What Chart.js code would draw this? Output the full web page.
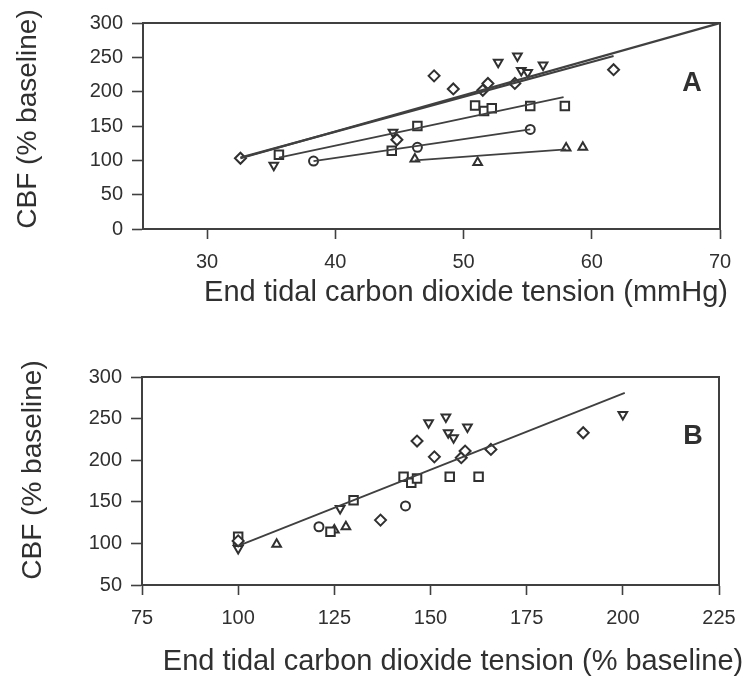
<!DOCTYPE html>
<html>
<head>
<meta charset="utf-8">
<title>CBF vs end tidal CO2</title>
<script src="https://cdn.jsdelivr.net/npm/chart.js@4/dist/chart.umd.min.js"></script>
<style>
  body { margin: 0; background: #fff; }
  #wrap { position: relative; width: 750px; height: 680px; }
  canvas { position: absolute; left: 0; }
</style>
</head>
<body>
<div id="wrap">
  <canvas id="chartA" width="750" height="340" style="top:0"></canvas>
  <canvas id="chartB" width="750" height="340" style="top:340px"></canvas>
</div>
<script>
// Panel A: CBF (% baseline) vs end tidal CO2 (mmHg)
const diamondAx = [32.6, 44.8, 47.7, 49.2, 51.5, 51.9, 54.0, 61.7];
const diamondAy = [103, 130, 223, 204, 202, 212, 212, 232];
const invTriAx = [35.2, 44.5, 52.7, 54.2, 54.5, 55.0, 56.2];
const invTriAy = [93, 141, 243, 252, 231, 228, 239];
const squareAx = [35.6, 44.4, 46.4, 50.9, 51.6, 52.2, 55.2, 57.9];
const squareAy = [108, 114, 150, 180, 172, 176, 179, 179];
const circleAx = [38.3, 46.4, 55.2];
const circleAy = [99, 119, 145];
const triAx = [46.2, 51.1, 58.0, 59.3];
const triAy = [102, 97, 118, 119];

// fitted lines, panel A (end points)
const fitA1x = [32.6, 70], fitA1y = [103, 300];
const fitA2x = [32.6, 61.7], fitA2y = [104, 252];
const fitA3x = [35.6, 57.8], fitA3y = [104, 192];
const fitA4x = [38.3, 55.2], fitA4y = [99, 145];
const fitA5x = [46.2, 58.0], fitA5y = [100, 116];

const xTicksA = [30, 40, 50, 60, 70];
const yTicksA = [0, 50, 100, 150, 200, 250, 300];

// Panel B: CBF (% baseline) vs end tidal CO2 (% baseline)
const diamondBx = [100, 137, 146.5, 151, 158, 159, 165.7, 189.7];
const diamondBy = [103, 128, 223, 204, 203, 211, 213, 233];
const invTriBx = [100, 126.5, 149.5, 154, 154.6, 156, 159.6, 200];
const invTriBy = [94, 142, 245, 252, 233, 227, 240, 255];
const squareBx = [100, 124, 130, 143, 145, 146.5, 155, 162.5];
const squareBy = [108, 114, 152, 180, 173, 178, 180, 180];
const circleBx = [100, 121, 143.5];
const circleBy = [100, 120, 145];
const triBx = [100, 110, 125, 128];
const triBy = [101, 99, 116, 120];

const fitBx = [100, 200.5], fitBy = [97, 281];

const xTicksB = [75, 100, 125, 150, 175, 200, 225];
const yTicksB = [50, 100, 150, 200, 250, 300];

const INK = '#303030';
const AXIS = '#404040';

function pts(xs, ys) {
    return xs.map((x, i) => ({ x: x, y: ys[i] }));
}

function markers(xs, ys, style, radius, rotation) {
    return {
        data: pts(xs, ys),
        showLine: false,
        pointStyle: style,
        pointRadius: radius,
        pointRotation: rotation || 0,
        pointBorderWidth: 2,
        pointBorderColor: INK,
        pointBackgroundColor: '#fff'
    };
}

function fitLine(xs, ys, width) {
    return {
        data: pts(xs, ys),
        showLine: true,
        borderColor: AXIS,
        borderWidth: width || 1.8,
        pointRadius: 0
    };
}

// top/right frame plus panel texts
const panelDecor = {
    id: 'panelDecor',
    afterDraw(chart, args, opts) {
        const { ctx, chartArea: a } = chart;
        ctx.save();
        ctx.strokeStyle = AXIS;
        ctx.lineWidth = 2;
        ctx.beginPath();
        ctx.moveTo(a.left, a.top);
        ctx.lineTo(a.right, a.top);
        ctx.lineTo(a.right, a.bottom);
        ctx.stroke();

        ctx.fillStyle = INK;
        ctx.textAlign = 'center';
        ctx.textBaseline = 'middle';
        ctx.font = 'bold 27px "Liberation Sans", Arial, sans-serif';
        ctx.fillText(opts.letter, opts.letterX, opts.letterY);

        ctx.font = '29px "Liberation Sans", Arial, sans-serif';
        ctx.fillText(opts.xTitle, opts.xTitleX, opts.xTitleY);

        ctx.translate(opts.yTitleX, opts.yTitleY);
        ctx.rotate(-Math.PI / 2);
        ctx.font = '28px "Liberation Sans", Arial, sans-serif';
        ctx.fillText(opts.yTitle, 0, 0);
        ctx.restore();
    }
};

function axis(min, max, tickValues, fitSize, horizontal) {
    return {
        type: 'linear',
        min: min,
        max: max,
        afterBuildTicks: (scale) => {
            scale.ticks = tickValues.map(v => ({ value: v }));
        },
        afterFit: (scale) => {
            if (horizontal) scale.height = fitSize; else scale.width = fitSize;
        },
        grid: {
            display: true,
            drawOnChartArea: false,
            drawTicks: true,
            tickLength: horizontal ? 10 : 11,
            tickWidth: 1.6,
            tickColor: AXIS
        },
        border: { display: true, color: AXIS, width: 2 },
        ticks: {
            color: INK,
            padding: horizontal ? 11 : 9,
            font: { family: '"Liberation Sans", Arial, sans-serif', size: 20 }
        }
    };
}

function makeChart(id, datasets, xs, ys, padding, decor) {
    return new Chart(document.getElementById(id), {
        type: 'scatter',
        data: { datasets: datasets },
        options: {
            responsive: false,
            animation: false,
            layout: { padding: padding },
            scales: { x: xs, y: ys },
            plugins: {
                legend: { display: false },
                tooltip: { enabled: false },
                panelDecor: decor
            }
        },
        plugins: [panelDecor]
    });
}

makeChart('chartA', [
    fitLine(fitA1x, fitA1y, 2.2),
    fitLine(fitA2x, fitA2y, 2.2),
    fitLine(fitA3x, fitA3y),
    fitLine(fitA4x, fitA4y),
    fitLine(fitA5x, fitA5y),
    markers(diamondAx, diamondAy, 'rectRot', 5.5),
    markers(invTriAx, invTriAy, 'triangle', 5, 180),
    markers(squareAx, squareAy, 'rect', 6),
    markers(circleAx, circleAy, 'circle', 4.5),
    markers(triAx, triAy, 'triangle', 5)
], axis(25, 70, xTicksA, 111, true), axis(0, 300, yTicksA, 143, false),
{ top: 23, right: 30, left: 0, bottom: 0 },
{
    letter: 'A', letterX: 692, letterY: 84,
    xTitle: 'End tidal carbon dioxide tension (mmHg)', xTitleX: 466, xTitleY: 293,
    yTitle: 'CBF (% baseline)', yTitleX: 28, yTitleY: 119
});

makeChart('chartB', [
    fitLine(fitBx, fitBy),
    markers(diamondBx, diamondBy, 'rectRot', 5.5),
    markers(invTriBx, invTriBy, 'triangle', 5, 180),
    markers(squareBx, squareBy, 'rect', 6),
    markers(circleBx, circleBy, 'circle', 4.5),
    markers(triBx, triBy, 'triangle', 5)
], axis(75, 225, xTicksB, 95, true), axis(50, 300, yTicksB, 142, false),
{ top: 37, right: 31, left: 0, bottom: 0 },
{
    letter: 'B', letterX: 693, letterY: 97,
    xTitle: 'End tidal carbon dioxide tension (% baseline)', xTitleX: 453, xTitleY: 322,
    yTitle: 'CBF (% baseline)', yTitleX: 33, yTitleY: 130
});
</script>
</body>
</html>
